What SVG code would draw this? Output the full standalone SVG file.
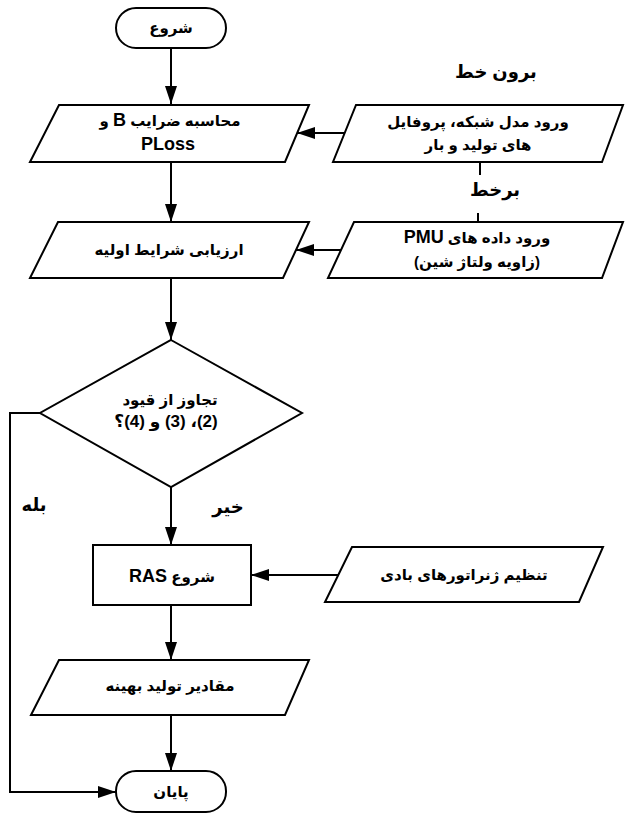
<svg xmlns="http://www.w3.org/2000/svg" width="625" height="814" viewBox="0 0 625 814">
<defs>
<marker id="ah" markerUnits="userSpaceOnUse" markerWidth="18" markerHeight="12" refX="18" refY="6" orient="auto">
<path d="M0,0 L18,6 L0,12 z" fill="#000"/>
</marker>
<style>
.s{fill:#fff;stroke:#000;stroke-width:2}
.c{fill:none;stroke:#000;stroke-width:2}
.a{marker-end:url(#ah)}
text{font-family:"Liberation Sans","DejaVu Sans",sans-serif;font-size:15px;font-weight:bold;text-anchor:middle;fill:#000}
.l{font-size:18px}
.lat{font-size:18px}
</style>
</defs>
<rect width="625" height="814" fill="#fff"/>
<g id="connectors">
<line class="c a" x1="171" y1="48" x2="171" y2="104"/>
<line class="c a" x1="345" y1="133" x2="297" y2="133"/>
<line class="c a" x1="171" y1="162" x2="171" y2="222"/>
<line class="c" x1="480" y1="162" x2="480" y2="175"/>
<line class="c" x1="478" y1="213" x2="478" y2="222"/>
<line class="c a" x1="341" y1="250" x2="296" y2="250"/>
<line class="c a" x1="171" y1="278" x2="171" y2="340"/>
<polyline class="c a" points="40,413 10,413 10,792 116,792"/>
<line class="c a" x1="171" y1="487" x2="171" y2="545"/>
<line class="c a" x1="338" y1="575" x2="251" y2="575"/>
<line class="c a" x1="171" y1="605" x2="171" y2="660"/>
<line class="c a" x1="171" y1="715" x2="171" y2="771"/>
</g>
<g id="start">
<rect class="s" x="116" y="8" width="110" height="40" rx="20"/>
<text x="171" y="33" direction="rtl">شروع</text>
</g>
<g id="calcB">
<polygon class="s" points="59,105 309,105 285,162 30,162"/>
<text x="170" y="126" direction="rtl">محاسبه ضرایب <tspan class="lat">B</tspan> و</text>
<text x="168" y="150" class="lat">PLoss</text>
</g>
<g id="offline-label">
<text class="l" x="496" y="78" direction="rtl">برون خط</text>
</g>
<g id="input-model">
<polygon class="s" points="356,105 623,105 602,162 333,162"/>
<text x="478" y="127" direction="rtl">ورود مدل شبکه، پروفایل</text>
<text x="478" y="150" direction="rtl">های تولید و بار</text>
</g>
<g id="online-label">
<text class="l" x="495" y="196" direction="rtl">برخط</text>
</g>
<g id="init">
<polygon class="s" points="58,222 309,222 283,278 30,278"/>
<text x="169" y="255" direction="rtl">ارزیابی شرایط اولیه</text>
</g>
<g id="input-pmu">
<polygon class="s" points="354,222 623,222 602,278 328,278"/>
<text x="477" y="243" direction="rtl">ورود داده های <tspan class="lat">PMU</tspan></text>
<text x="477" y="267" direction="rtl">(زاویه ولتاژ شین)</text>
</g>
<g id="decision">
<polygon class="s" points="171,340 302,413 171,487 40,413"/>
<text x="170" y="405" direction="rtl">تجاوز از قیود</text>
<text x="166" y="427" direction="rtl" style="font-size:17px">(2)، (3) و (4)؟</text>
</g>
<g id="yes-label">
<text class="l" x="34" y="511" direction="rtl">بله</text>
</g>
<g id="no-label">
<text class="l" x="228" y="513" direction="rtl">خیر</text>
</g>
<g id="ras">
<rect class="s" x="93" y="545" width="158" height="60"/>
<text x="172" y="582" direction="rtl">شروع <tspan class="lat">RAS</tspan></text>
</g>
<g id="wind">
<polygon class="s" points="352,547 603,547 579,602 325,602"/>
<text x="464" y="580" direction="rtl">تنظیم ژنراتورهای بادی</text>
</g>
<g id="optimal">
<polygon class="s" points="59,660 309,660 285,715 31,715"/>
<text x="170" y="691" direction="rtl">مقادیر تولید بهینه</text>
</g>
<g id="end">
<rect class="s" x="116" y="771" width="110" height="41" rx="20"/>
<text x="171" y="797" direction="rtl">پایان</text>
</g>
</svg>
